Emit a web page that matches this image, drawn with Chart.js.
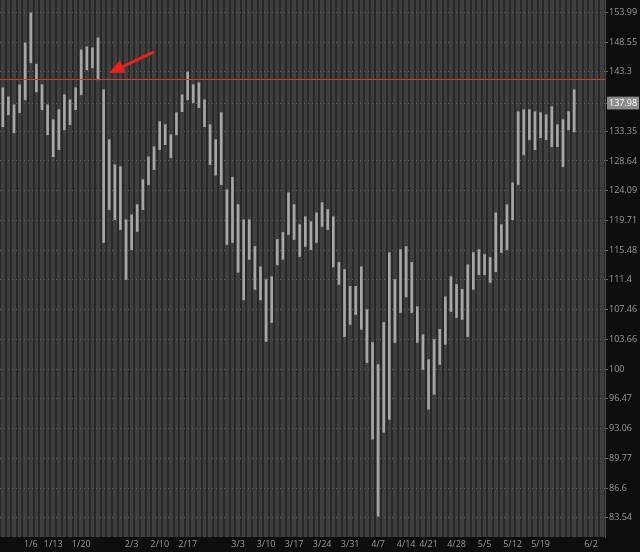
<!DOCTYPE html>
<html>
<head>
<meta charset="utf-8">
<script src="https://cdn.jsdelivr.net/npm/chart.js@4"></script>
<style>
  html, body { margin: 0; padding: 0; background: #0e0e0e; }
  #wrap { width: 640px; height: 552px; }
</style>
</head>
<body>
<div id="wrap"><canvas id="priceChart" width="640" height="552"></canvas></div>
<script>
// trading days shown on the x axis (last few are empty future days)
const days = ['12/27','12/30','12/31','1/2','1/3','1/6','1/7','1/8','1/10','1/13','1/14','1/15','1/16','1/17',
  '1/21','1/22','1/23','1/24','1/27','1/28','1/29','1/30','1/31','2/3','2/4','2/5','2/6','2/7','2/10','2/11',
  '2/12','2/13','2/14','2/18','2/19','2/20','2/21','2/24','2/25','2/26','2/27','2/28','3/3','3/4','3/5','3/6',
  '3/7','3/10','3/11','3/12','3/13','3/14','3/17','3/18','3/19','3/20','3/21','3/24','3/25','3/26','3/27',
  '3/28','3/31','4/1','4/2','4/3','4/4','4/7','4/8','4/9','4/10','4/11','4/14','4/15','4/16','4/17','4/21',
  '4/22','4/23','4/24','4/25','4/28','4/29','4/30','5/1','5/2','5/5','5/6','5/7','5/8','5/9','5/12','5/13',
  '5/14','5/15','5/16','5/19','5/20','5/21','5/22','5/23','5/27','5/28','5/29','5/30','6/2','6/3','6/4'];

// daily ranges
const highs = [140.56,139.03,137.70,141.07,148.39,153.86,144.62,141.07,137.70,135.24,136.88,139.37,138.52,140.56,
  147.16,147.69,147.51,149.30,140.22,131.99,128.06,127.75,119.82,120.53,122.03,125.77,129.30,130.88,134.91,134.42,
  132.78,136.39,139.37,143.28,141.07,141.41,138.52,134.42,131.99,136.39,124.24,126.14,122.03,119.82,119.82,115.99,
  113.17,111.45,111.85,116.99,117.98,123.80,122.03,119.11,120.25,119.54,120.82,122.33,121.30,120.25,113.78,
  112.81,110.53,110.53,113.17,107.47,103.28,100.56,105.81,115.15,111.45,115.56,115.99,113.78,107.86,104.26,101.15,
  103.65,104.93,109.14,111.85,110.79,110.13,113.45,115.15,115.56,114.88,114.47,120.82,119.11,122.03,125.30,136.55,
  136.88,136.88,136.55,136.39,136.06,137.37,134.42,135.24,136.55,140.22];
const lows = [134.09,136.06,133.10,136.39,138.52,144.87,139.88,136.88,132.78,129.30,130.41,133.58,134.42,136.88,
  139.37,143.63,143.98,141.92,116.56,121.30,119.82,118.40,111.45,115.56,118.12,121.30,125.01,127.30,130.41,131.20,
  129.14,132.78,136.55,138.52,138.03,137.21,134.09,128.06,126.44,125.01,116.28,116.56,112.43,108.75,114.19,110.13,
  108.75,103.40,105.81,113.45,114.19,117.69,116.99,114.60,115.99,115.56,116.56,118.83,118.40,113.17,110.79,
  104.02,105.56,106.83,104.93,100.79,91.88,83.70,92.65,94.09,103.28,107.09,109.14,107.09,103.28,99.96,95.27,
  97.00,100.56,103.04,107.22,106.45,106.20,104.02,110.13,112.11,112.11,111.06,112.51,115.15,115.56,119.82,125.01,
  129.59,131.99,130.41,132.31,131.99,130.88,130.88,127.75,133.58,133.25];

// axis labels
const yTicks = [153.99,148.55,143.3,137.98,133.35,128.64,124.09,119.71,115.48,111.4,107.46,103.66,100,96.47,93.06,89.77,86.6,83.54];
const xTickDays = ['1/6','1/13','1/21','2/3','2/10','2/18','3/3','3/10','3/17','3/24','3/31','4/7','4/14','4/21','4/28','5/5','5/12','5/19','6/2'];
const xTickText = ['1/6','1/13','1/20','2/3','2/10','2/17','3/3','3/10','3/17','3/24','3/31','4/7','4/14','4/21','4/28','5/5','5/12','5/19','6/2'];

const lastPrice = 137.98;
const levelPrice = 142.1;
const arrowTail = ['2/7', 146.8];
const arrowTip = ['1/28', 143.1];

const ranges = days.map((d, i) => i < highs.length ? [lows[i], highs[i]] : null);

const backdropPlugin = {
    id: 'backdrop',
    beforeDraw(chart) {
        const ctx = chart.ctx;
        const a = chart.chartArea;
        ctx.save();
        ctx.fillStyle = '#0e0e0e';
        ctx.fillRect(0, 0, chart.width, chart.height);
        ctx.fillStyle = '#3f3f3f';
        ctx.fillRect(a.left, a.top, a.right - a.left, a.bottom - a.top);
        ctx.restore();
    }
};

const markupPlugin = {
    id: 'markup',
    afterDraw(chart) {
        const ctx = chart.ctx;
        const a = chart.chartArea;
        const xs = chart.scales.x;
        const ys = chart.scales.y;
        ctx.save();
        ctx.globalAlpha = 1;
        ctx.setLineDash([]);
        // level line
        const ly = Math.round(ys.getPixelForValue(levelPrice));
        ctx.fillStyle = '#d8372a';
        ctx.fillRect(a.left, ly, a.right - a.left, 1);

        // arrow
        const x1 = xs.getPixelForValue(arrowTail[0]), y1 = ys.getPixelForValue(arrowTail[1]);
        const x2 = xs.getPixelForValue(arrowTip[0]), y2 = ys.getPixelForValue(arrowTip[1]);
        const ang = Math.atan2(y2 - y1, x2 - x1);
        const headLen = 15, headW = 7;
        const bx = x2 - headLen * Math.cos(ang), by = y2 - headLen * Math.sin(ang);
        ctx.strokeStyle = '#e8221b';
        ctx.fillStyle = '#e8221b';
        ctx.lineWidth = 3;
        ctx.beginPath();
        ctx.moveTo(x1, y1);
        ctx.lineTo(bx, by);
        ctx.stroke();
        ctx.beginPath();
        ctx.moveTo(x2, y2);
        ctx.lineTo(bx + headW * Math.sin(ang), by - headW * Math.cos(ang));
        ctx.lineTo(bx - headW * Math.sin(ang), by + headW * Math.cos(ang));
        ctx.closePath();
        ctx.fill();
        ctx.restore();
    }
};

const priceConfig = {
    type: 'bar',
    data: {
        labels: days,
        datasets: [{
            label: 'Price',
            data: ranges,
            backgroundColor: '#a6a6a6',
            borderWidth: 0,
            barThickness: 2
        }]
    },
    options: {
        responsive: false,
        animation: false,
        layout: { padding: 0 },
        scales: {
            x: {
                grid: {
                    offset: true,
                    color: '#282828',
                    lineWidth: 2,
                    drawTicks: false
                },
                border: { display: false },
                ticks: {
                    autoSkip: false,
                    maxRotation: 0,
                    padding: 2,
                    color: '#9a9a9a',
                    font: { family: 'Open Sans', size: 9 },
                    callback: function(value) {
                        const k = xTickDays.indexOf(days[value]);
                        return k >= 0 ? xTickText[k] : '';
                    }
                },
                afterFit: function(scale) {
                    scale.height = 15;
                    scale.paddingLeft = 0;
                    scale.paddingRight = 0;
                }
            },
            y: {
                type: 'logarithmic',
                position: 'right',
                min: 81.62,
                max: 156.3,
                grid: {
                    color: '#5a5a5a',
                    tickColor: '#6a6a6a',
                    tickLength: 3
                },
                border: { color: '#505050', dash: [1, 3] },
                afterBuildTicks: function(scale) {
                    scale.ticks = yTicks.map(v => ({ value: v }));
                },
                ticks: {
                    padding: 1,
                    font: { family: 'Open Sans', size: 9 },
                    color: (c) => c.tick && c.tick.value === lastPrice ? '#ffffff' : '#9a9a9a',
                    showLabelBackdrop: (c) => !!(c.tick && c.tick.value === lastPrice),
                    backdropColor: '#8a8a8a',
                    backdropPadding: { top: 1, bottom: 1, left: 2, right: 2 },
                    callback: function(value) { return String(value); }
                },
                afterFit: function(scale) {
                    scale.width = 35;
                    scale.paddingTop = 0;
                    scale.paddingBottom = 0;
                }
            }
        },
        plugins: {
            legend: { display: false },
            tooltip: { enabled: false }
        }
    },
    plugins: [backdropPlugin, markupPlugin]
};

const priceChart = new Chart(document.getElementById('priceChart'), priceConfig);
</script>
</body>
</html>
